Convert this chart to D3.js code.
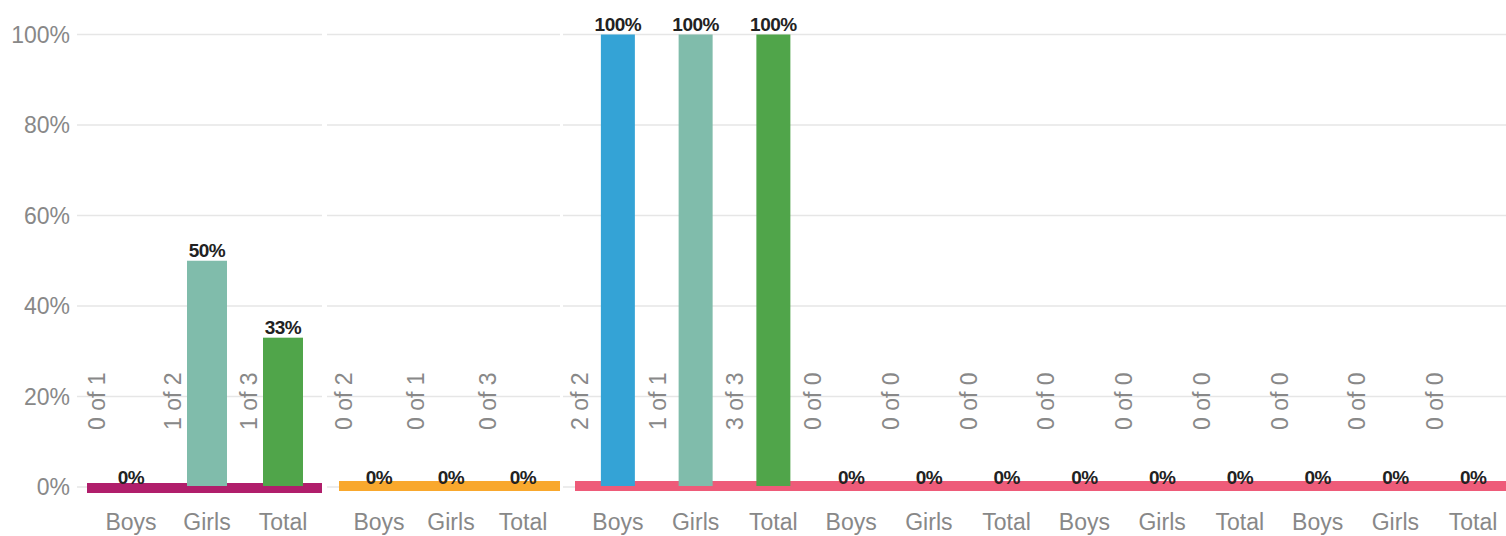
<!DOCTYPE html>
<html>
<head>
<meta charset="utf-8">
<script src="https://cdn.jsdelivr.net/npm/d3@7"></script>
<style>
  body { margin: 0; background: #fff; }
  text { font-family: "Liberation Sans", Arial, sans-serif; }
</style>
</head>
<body>
<script>
// chart data
var categories = ["Boys", "Girls", "Total"];
var yTicks = [0, 20, 40, 60, 80, 100];

var panel1Values = [0, 50, 33];
var panel1Counts = ["0 of 1", "1 of 2", "1 of 3"];

var panel2Values = [0, 0, 0];
var panel2Counts = ["0 of 2", "0 of 1", "0 of 3"];

var panel3Values = [100, 100, 100, 0, 0, 0, 0, 0, 0, 0, 0, 0];
var panel3Counts = ["2 of 2", "1 of 1", "3 of 3", "0 of 0", "0 of 0", "0 of 0",
                    "0 of 0", "0 of 0", "0 of 0", "0 of 0", "0 of 0", "0 of 0"];

var catColors = {Boys: "#34a3d6", Girls: "#80bcab", Total: "#50a54a"};

// layout of each panel (not data)
var panels = [
  {values: panel1Values, counts: panel1Counts, color: "#b01e6b", grid: [77, 322], band: [87, 322], range: [93, 321], bandY: 483, barW: 40, countDx: -34},
  {values: panel2Values, counts: panel2Counts, color: "#f9a82d", grid: [327, 560], band: [339, 560], range: [343, 559], bandY: 481, barW: 38, countDx: -35},
  {values: panel3Values, counts: panel3Counts, color: "#ee5b79", grid: [563, 1506], band: [575, 1506], range: [579, 1512], bandY: 481, barW: 34, countDx: -38}
];

var w = 1506, h = 536;

var svg = d3.select("body").append("svg")
    .attr("width", w)
    .attr("height", h);

var y = d3.scaleLinear().domain([0, 100]).range([487, 34.5]);

// y tick labels
svg.selectAll(".ylab")
   .data(yTicks)
   .enter().append("text")
   .attr("class", "ylab")
   .attr("x", 70)
   .attr("y", function(d){ return y(d); })
   .attr("dy", "0.35em")
   .attr("text-anchor", "end")
   .attr("fill", "#888")
   .style("font-size", "23px")
   .text(function(d){ return d + "%"; });

panels.forEach(function(p){
    var labels = p.values.map(function(v, i){ return categories[i % 3]; });
    var idx = d3.range(p.values.length);
    var x = d3.scalePoint().domain(idx).range(p.range).padding(0.5);

    var g = svg.append("g");

    // gridlines
    g.selectAll(".grid")
     .data(yTicks)
     .enter().append("line")
     .attr("x1", p.grid[0])
     .attr("x2", p.grid[1])
     .attr("y1", function(d){ return y(d); })
     .attr("y2", function(d){ return y(d); })
     .attr("stroke", "#e6e6e6")
     .attr("stroke-width", 1.6);

    // coloured base band
    g.append("rect")
     .attr("x", p.band[0])
     .attr("y", p.bandY)
     .attr("width", p.band[1] - p.band[0])
     .attr("height", 10)
     .attr("fill", p.color);

    // bars
    g.selectAll(".bar")
     .data(idx.filter(function(i){ return p.values[i] > 0; }))
     .enter().append("rect")
     .attr("x", function(i){ return x(i) - p.barW / 2; })
     .attr("y", function(i){ return y(p.values[i]); })
     .attr("width", p.barW)
     .attr("height", function(i){ return y(0) - y(p.values[i]) - 1; })
     .attr("fill", function(i){ return catColors[labels[i]]; });

    // value labels
    g.selectAll(".val")
     .data(idx)
     .enter().append("text")
     .attr("x", function(i){ return x(i); })
     .attr("y", function(i){ return y(p.values[i]) - 3.5; })
     .attr("text-anchor", "middle")
     .attr("fill", "#222")
     .style("font-size", "19px")
     .style("font-weight", "bold")
     .style("letter-spacing", "-0.5px")
     .text(function(i){ return p.values[i] + "%"; });

    // rotated counts
    g.selectAll(".cnt")
     .data(idx)
     .enter().append("text")
     .attr("transform", function(i){
         return "translate(" + (x(i) + p.countDx) + ",430) rotate(-90)";
     })
     .attr("dy", "0.35em")
     .attr("fill", "#888")
     .style("font-size", "23px")
     .text(function(i){ return p.counts[i]; });

    // category labels
    g.selectAll(".xlab")
     .data(idx)
     .enter().append("text")
     .attr("x", function(i){ return x(i); })
     .attr("y", 530)
     .attr("text-anchor", "middle")
     .attr("fill", "#888")
     .style("font-size", "23px")
     .text(function(i){ return labels[i]; });
});
</script>
</body>
</html>
